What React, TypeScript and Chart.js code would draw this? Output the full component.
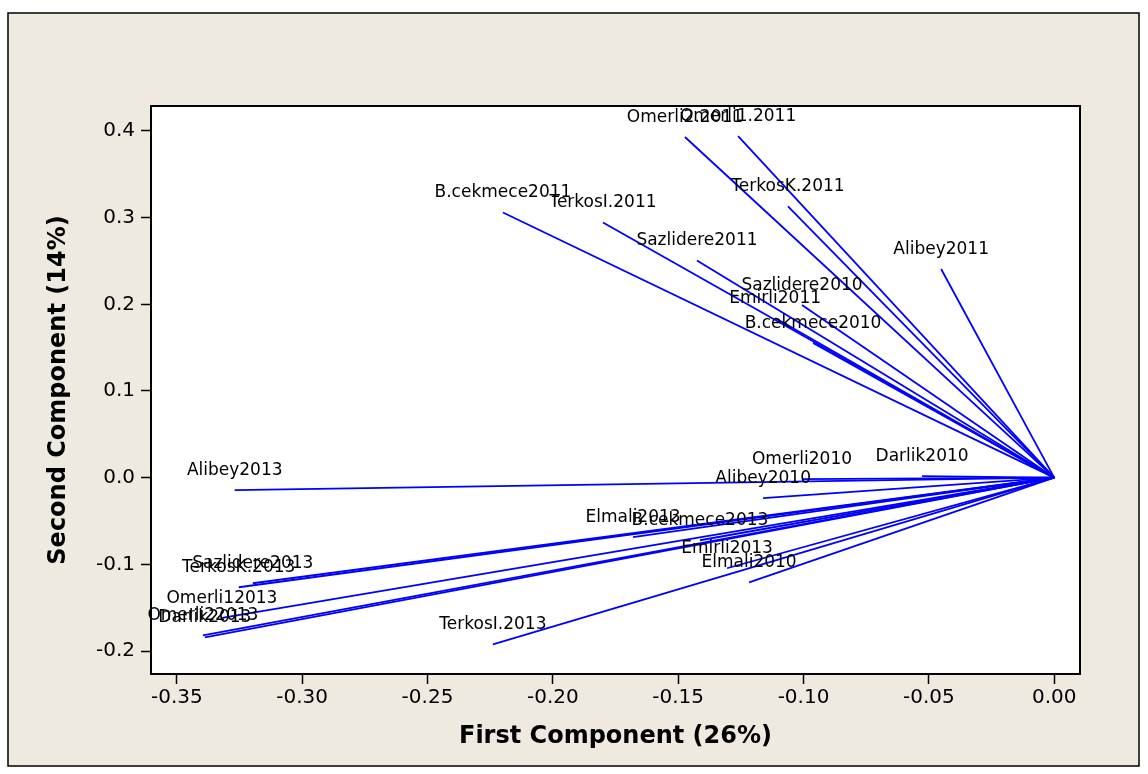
import { useEffect, useRef } from "react";
import { Chart, registerables } from "chart.js";
Chart.register(...registerables);

const names = [
  "Omerli2.2011", "Omerli1.2011", "TerkosK.2011", "B.cekmece2011", "TerkosI.2011",
  "Sazlidere2011", "Sazlidere2010", "Emirli2011", "B.cekmece2010", "Alibey2011",
  "Darlik2010", "Omerli2010", "Alibey2010", "Alibey2013", "Elmali2013",
  "B.cekmece2013", "Emirli2013", "Elmali2010", "TerkosI.2013", "Sazlidere2013",
  "TerkosK.2013", "Omerli12013", "Omerli22013", "Darlik2013",
];
const firstComp = [
  -0.1473, -0.1261, -0.1062, -0.2199, -0.18,
  -0.1425, -0.1006, -0.1113, -0.0962, -0.0451,
  -0.0527, -0.1006, -0.1161, -0.3269, -0.168,
  -0.1413, -0.1305, -0.1217, -0.2239, -0.3197,
  -0.3253, -0.332, -0.3396, -0.3388,
];
const secondComp = [
  0.393, 0.394, 0.313, 0.306, 0.2945,
  0.2506, 0.1992, 0.1842, 0.1553, 0.2408,
  0.0017, -0.0017, -0.0237, -0.0144, -0.0687,
  -0.0722, -0.1045, -0.1207, -0.1923, -0.1218,
  -0.1264, -0.1617, -0.1819, -0.1842,
];
const xTicks = [-0.35, -0.3, -0.25, -0.2, -0.15, -0.1, -0.05, 0];
const yTicks = [-0.2, -0.1, 0, 0.1, 0.2, 0.3, 0.4];
const xTitle = "First Component (26%)";
const yTitle = "Second Component (14%)";

const BEIGE = "rgb(238,234,224)";
const BLUE = "#0000FF";

export default function App() {
  const ref = useRef<HTMLCanvasElement | null>(null);
  useEffect(() => {
    if (!ref.current) return;
    const framePlugin = {
      id: "frame",
      beforeDraw(chart: any) {
        const { ctx, chartArea: a } = chart;
        ctx.save();
        ctx.fillStyle = "#ffffff";
        ctx.fillRect(0, 0, chart.width, chart.height);
        ctx.fillStyle = BEIGE;
        ctx.fillRect(8, 13, 1131, 753);
        ctx.strokeStyle = "#000";
        ctx.lineWidth = 1.5;
        ctx.strokeRect(8, 13, 1131, 753);
        ctx.fillStyle = "#ffffff";
        ctx.fillRect(a.left, a.top, a.right - a.left, a.bottom - a.top);
        ctx.restore();
      },
      afterDatasetsDraw(chart: any) {
        const { ctx } = chart;
        const xs = chart.scales.x;
        const ys = chart.scales.y;
        ctx.save();
        ctx.fillStyle = "#000";
        ctx.font = "17px 'DejaVu Sans'";
        ctx.textAlign = "center";
        ctx.textBaseline = "alphabetic";
        names.forEach((n, i) => {
          const px = xs.getPixelForValue(firstComp[i]);
          const py = ys.getPixelForValue(secondComp[i]);
          ctx.fillText(n, px, py - 15);
        });
        ctx.restore();
      },
      afterDraw(chart: any) {
        const { ctx, chartArea: a } = chart;
        ctx.save();
        ctx.strokeStyle = "#000";
        ctx.lineWidth = 2;
        ctx.strokeRect(a.left, a.top, a.right - a.left, a.bottom - a.top);
        ctx.fillStyle = "#000";
        ctx.font = "bold 24px 'DejaVu Sans'";
        ctx.textAlign = "center";
        ctx.textBaseline = "middle";
        ctx.fillText(xTitle, (a.left + a.right) / 2, 737);
        ctx.translate(59, (a.top + a.bottom) / 2);
        ctx.rotate(-Math.PI / 2);
        ctx.fillText(yTitle, 0, 0);
        ctx.restore();
      },
    };
    const datasets = names.map((n, i) => ({
      label: n,
      data: [
        { x: 0, y: 0 },
        { x: firstComp[i], y: secondComp[i] },
      ],
      showLine: true,
      borderColor: BLUE,
      backgroundColor: BLUE,
      borderWidth: 1.8,
      pointRadius: 0,
      fill: false,
    }));
    const gridOpts = {
      display: true,
      drawOnChartArea: false,
      drawTicks: true,
      tickLength: 10,
      tickColor: "#000",
      tickWidth: 1.5,
    };
    const chart = new Chart(ref.current, {
      type: "scatter",
      data: { datasets },
      plugins: [framePlugin],
      options: {
        animation: false,
        responsive: false,
        devicePixelRatio: 1,
        layout: { padding: { top: 106, right: 68, left: 0, bottom: 0 } },
        plugins: { legend: { display: false }, tooltip: { enabled: false } },
        scales: {
          x: {
            type: "linear",
            min: -0.3603,
            max: 0.0103,
            afterBuildTicks: (s: any) => {
              s.ticks = xTicks.map((v) => ({ value: v }));
            },
            afterFit: (s: any) => {
              s.height = 100;
            },
            grid: gridOpts,
            border: { display: true, color: "#000", width: 2 },
            ticks: {
              color: "#000",
              font: { family: "'DejaVu Sans'", size: 20 },
              padding: 2,
              maxRotation: 0,
              autoSkip: false,
              callback: (v: any) => Number(v).toFixed(2),
            },
          },
          y: {
            type: "linear",
            min: -0.2265,
            max: 0.4288,
            afterBuildTicks: (s: any) => {
              s.ticks = yTicks.map((v) => ({ value: v }));
            },
            afterFit: (s: any) => {
              s.width = 151;
            },
            grid: gridOpts,
            border: { display: true, color: "#000", width: 2 },
            ticks: {
              color: "#000",
              font: { family: "'DejaVu Sans'", size: 20 },
              padding: 6,
              autoSkip: false,
              callback: (v: any) => Number(v).toFixed(1),
            },
          },
        },
      },
    });
    return () => chart.destroy();
  }, []);
  return (
    <div style={{ position: "absolute", left: 0, top: 0, width: 1148, height: 774 }}>
      <canvas ref={ref} width={1148} height={774} style={{ display: "block" }} />
    </div>
  );
}
